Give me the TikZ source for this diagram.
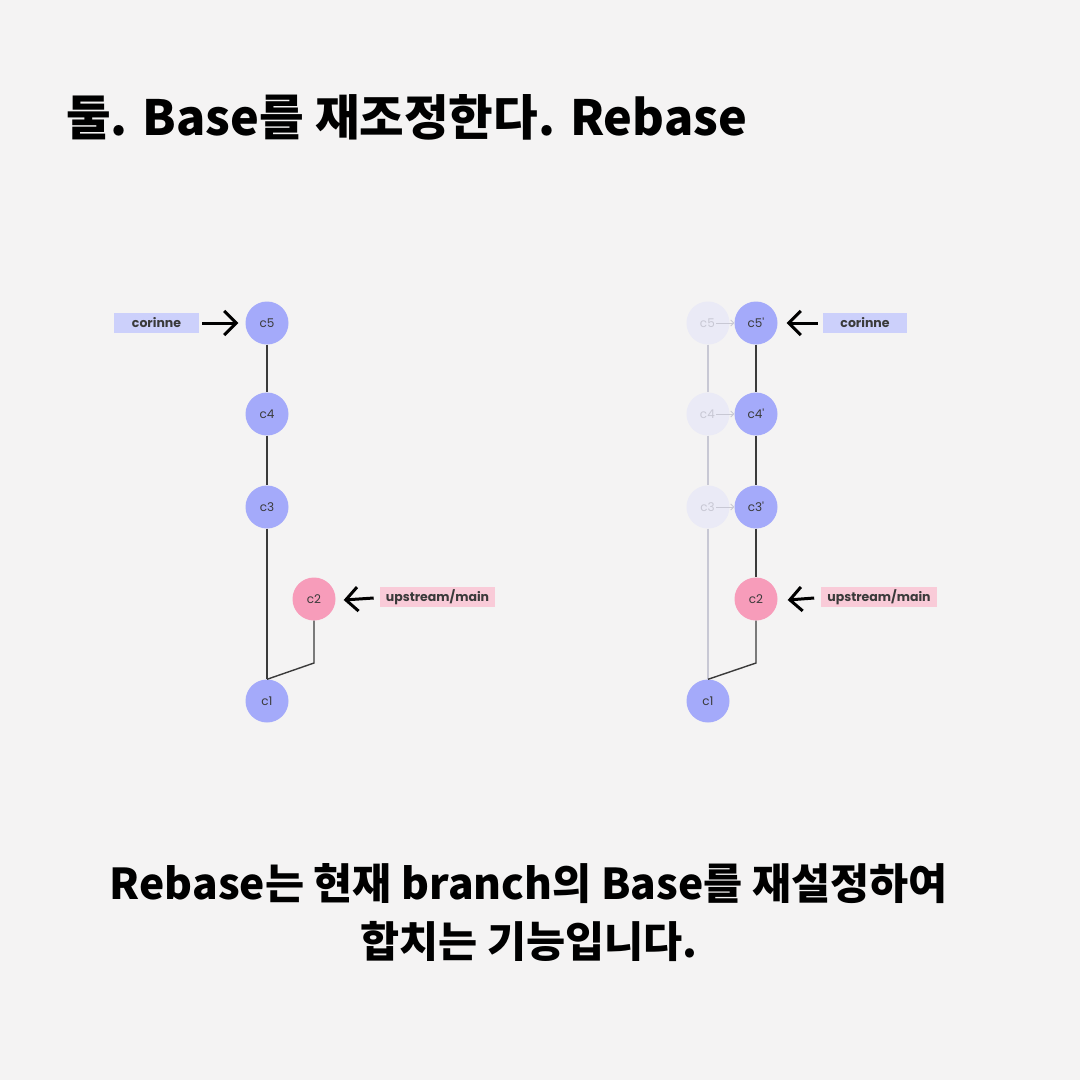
\documentclass[tikz,border=0pt]{standalone}
\usepackage{fontspec}
\usetikzlibrary{arrows.meta, positioning, calc}
\newfontfamily\krfont{Noto Sans CJK KR}
\newfontfamily\labelfont{Poppins}
\definecolor{paper}{HTML}{F4F3F3}
\definecolor{lav}{HTML}{A4AAFA}
\definecolor{lavtag}{HTML}{CCD0FB}
\definecolor{rose}{HTML}{F79CBA}
\definecolor{rosetag}{HTML}{F9CBD8}
\definecolor{ghost}{HTML}{EAEAF6}
\definecolor{ghosttxt}{HTML}{C8C8D4}
\definecolor{inkgray}{HTML}{3A3A3A}

\tikzset{
  commit/.style={circle, minimum size=43pt, inner sep=0pt,
    font=\labelfont\fontsize{12}{14}\selectfont, text=inkgray},
  lavnode/.style={commit, fill=lav},
  rosenode/.style={commit, fill=rose},
  ghostnode/.style={commit, fill=ghost},
  ghostlabel/.style={font=\labelfont\fontsize{12}{14}\selectfont, text=ghosttxt, inner sep=1pt},
  tag/.style={minimum height=20pt, inner xsep=6pt, inner ysep=0pt,
    font=\labelfont\bfseries\fontsize{12.5}{14}\selectfont, text=inkgray},
  edge/.style={draw=inkgray, line width=1.4pt},
  ghostedge/.style={draw=ghosttxt, line width=1.1pt},
  pointer/.style={-{Straight Barb[length=12pt, width=24pt, line width=3pt]}, line width=3pt, black},
  ghostarr/.style={-{Straight Barb[length=3pt, width=6pt]}, draw=ghosttxt, line width=0.9pt},
}

\begin{document}
\begin{tikzpicture}[x=1pt, y=-1pt]

% Background
\fill[paper] (0,0) rectangle (1080,1080);
\useasboundingbox (0,0) rectangle (1080,1080);

% Title
\node[font=\krfont\bfseries\fontsize{48.5}{54}\selectfont, anchor=west, inner sep=0pt]
  (title) at (66,117) {둘. Base를 재조정한다. Rebase};

% === Before rebase ===
\node[lavnode] (a5) at (267,323) {c5};
\node[lavnode] (a4) at (267,414) {c4};
\node[lavnode] (a3) at (267,507) {c3};
\node[rosenode] (a2) at (314,599) {c2};
\node[lavnode] (a1) at (267,701) {c1};
\coordinate (akink) at (314,663);

\draw[edge] (a5) -- (a4);
\draw[edge] (a4) -- (a3);
\draw[edge] (a3) -- (a1.north);
\draw[edge] (a2.south) -- (akink) -- (a1.north);

\node[tag, fill=lavtag, minimum width=85pt] (atag5) at (156.5,323) {corinne};
\node[tag, fill=rosetag, minimum width=99pt] (atag2) at (437.5,597) {upstream/main};
\draw[pointer] ($(atag5.east)+(3,0)$) -- ($(a5.west)+(-7,0)$);
\draw[pointer] ($(atag2.west)+(-6,1)$) -- ($(a2.east)+(8,1)$);

% === After rebase ===
\node[ghostnode] (g5) at (708,323) {};
\node[ghostnode] (g4) at (708,414) {};
\node[ghostnode] (g3) at (708,507) {};
\node[lavnode] (b1) at (708,701) {c1};
\node[lavnode] (b5) at (756,323) {c5'};
\node[lavnode] (b4) at (756,414) {c4'};
\node[lavnode] (b3) at (756,507) {c3'};
\node[rosenode] (b2) at (756,599) {c2};
\coordinate (bkink) at (756,663);

\node[ghostlabel, anchor=east] (g5t) at (716,323) {c5};
\node[ghostlabel, anchor=east] (g4t) at (716,414) {c4};
\node[ghostlabel, anchor=east] (g3t) at (716,507) {c3};
\draw[ghostarr] (g5t.east) -- (b5.west);
\draw[ghostarr] (g4t.east) -- (b4.west);
\draw[ghostarr] (g3t.east) -- (b3.west);

\draw[ghostedge] (g5) -- (g4);
\draw[ghostedge] (g4) -- (g3);
\draw[ghostedge] (g3) -- (b1.north);

\draw[edge] (b5) -- (b4);
\draw[edge] (b4) -- (b3);
\draw[edge] (b3) -- (b2);
\draw[edge] (b2.south) -- (bkink) -- (b1.north);

\node[tag, fill=lavtag, minimum width=84pt] (btag5) at (865,323) {corinne};
\node[tag, fill=rosetag, minimum width=98pt] (btag2) at (879,597) {upstream/main};
\draw[pointer] ($(btag5.west)+(-5,0)$) -- ($(b5.east)+(9,0)$);
\draw[pointer] ($(btag2.west)+(-7,1)$) -- ($(b2.east)+(10,1)$);

% Caption
\node[font=\krfont\bfseries\fontsize{42.5}{58}\selectfont, align=center, inner sep=0pt]
  (caption) at (529,913) {Rebase는 현재 branch의 Base를 재설정하여\\합치는 기능입니다.};

\end{tikzpicture}
\end{document}
